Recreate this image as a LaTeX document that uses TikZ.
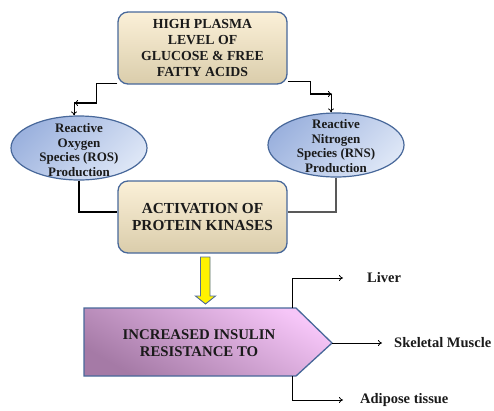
\documentclass[tikz,border=0pt]{standalone}
\usepackage{fontspec}
\setmainfont{Liberation Serif}
\usetikzlibrary{shapes.geometric,arrows.meta,calc}
\definecolor{cream1}{HTML}{FBF0D8}
\definecolor{cream2}{HTML}{DACDAB}
\definecolor{bord}{HTML}{48689A}
\definecolor{blue1}{HTML}{9CB2DE}
\definecolor{blue2}{HTML}{DDE6F6}
\definecolor{pink1}{HTML}{F6C6F8}
\definecolor{pink2}{HTML}{A57AA6}
\definecolor{txt}{HTML}{1A1A1A}
\begin{document}
\begin{tikzpicture}[x=1pt,y=-1pt,
  box/.style={draw=bord, line width=1.3pt, rounded corners=10pt, top color=cream1, bottom color=cream2,
    minimum width=169pt, minimum height=72pt, align=center, text=txt, inner sep=0pt},
  oval/.style={ellipse, draw=bord, line width=1.2pt, top color=blue1, bottom color=blue2, shading angle=45,
    minimum width=136pt, minimum height=64pt, inner sep=0pt},
  ovtext/.style={align=center, text=txt, font=\bfseries\fontsize{13}{14.5}\selectfont, inner sep=0pt},
  conn/.style={line width=1.4pt, black},
  thin/.style={line width=0.8pt, black, -{To[length=4pt,width=6pt]}},
  lab/.style={font=\bfseries\fontsize{14.5}{17}\selectfont, text=txt, anchor=west, inner sep=0pt}
]
\useasboundingbox (0,0) rectangle (494,410);

% top box
\node[box, font=\bfseries\fontsize{13.8}{16}\selectfont] (top) at (202.5,48) {HIGH PLASMA\\LEVEL OF\\GLUCOSE \& FREE\\FATTY ACIDS};

% ellipses
\node[oval] (ros) at (79,148) {};
\node[ovtext] (rost) at (79,150) {Reactive\\Oxygen\\Species (ROS)\\Production};
\node[oval] (rns) at (336,145) {};
\node[ovtext] (rnst) at (336,146) {Reactive\\Nitrogen\\Species (RNS)\\Production};

% activation box
\node[box, font=\bfseries\fontsize{15.3}{17}\selectfont] (act) at (202.5,217) {ACTIVATION OF\\PROTEIN KINASES};

% connectors top -> ellipses
\coordinate (lk) at (74,103);
\coordinate (rk) at (332,94);
\draw[conn] ([yshift=1pt]top.south west) -- ++(-21,0) |- (lk);
\draw[thin] ([xshift=6pt]lk) -- (lk);
\draw[thin] (lk) -- (lk |- ros.north);
\draw[conn] ([yshift=3pt]top.south east) -- ++(23,0) |- ([xshift=-1pt]rk);
\draw[thin] ([xshift=-6pt]rk) -- (rk);
\draw[thin] ([xshift=-1pt]rk) -- ([xshift=-1pt]rk |- rns.north);

% ellipses -> activation
\draw[conn, line width=1.2pt] (ros.south) |- ([yshift=5pt]act.west);
\draw[conn, line width=1.2pt, black!65] (rns.south) |- ([yshift=5pt]act.east);

% yellow block arrow
\draw[draw=bord!80!gray, line width=0.9pt, fill=yellow]
  (200.5,257) -- (210,257) -- (210,296) -- (215.5,296) -- (205.5,304) -- (195.5,296) -- (200.5,296) -- cycle;

% pentagon
\shade[draw=bord, line width=1.3pt, top color=pink1, bottom color=pink2, shading angle=-30]
  (84,308) -- (296,308) -- (332,343) -- (296,376) -- (84,376) -- cycle;
\node[align=center, text=txt, inner sep=0pt, font=\bfseries\fontsize{14.8}{17}\selectfont] (ir) at (199,343) {INCREASED INSULIN\\RESISTANCE TO};
\coordinate (irtip) at (332,343);
\coordinate (la) at (292,308);
\coordinate (lb) at (292,376);

% labels
\node[lab] (liver) at (367,278) {Liver};
\node[lab] (skm) at (394,343) {Skeletal Muscle};
\node[lab] (adi) at (360,400) {Adipose tissue};

\draw[thin] (la) |- ([xshift=-24pt]liver.west);
\draw[thin] (irtip) -- ([xshift=-12pt]skm.west);
\draw[thin] (lb) |- ([xshift=-17pt]adi.west);
\end{tikzpicture}
\end{document}
